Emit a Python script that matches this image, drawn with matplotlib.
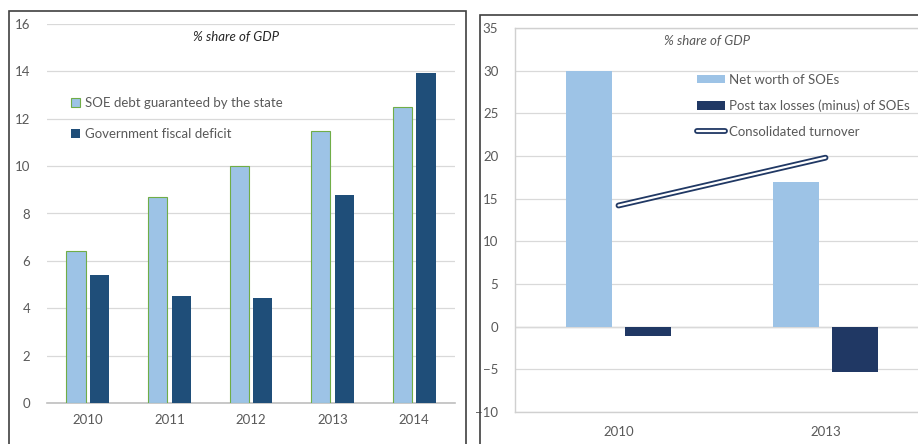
import matplotlib.pyplot as plt
import matplotlib.patheffects as pe
from matplotlib.patches import Rectangle
import numpy as np

# left panel data
years_left = ["2010", "2011", "2012", "2013", "2014"]
soe_debt = [6.4, 8.7, 10.0, 11.5, 12.5]
fiscal_deficit = [5.4, 4.5, 4.45, 8.8, 13.95]

# right panel data
years_right = ["2010", "2013"]
net_worth = [30.0, 17.0]
post_tax_losses = [-1.1, -5.3]
turnover = [14.2, 19.8]

LIGHT = "#9DC3E6"
DARK_L = "#1F4E79"
DARK_R = "#203864"
GRID = "#D9D9D9"
TXT = "#595959"

plt.rcParams["font.family"] = ["Lato", "DejaVu Sans"]

W, H = 918, 444
fig = plt.figure(figsize=(W / 100, H / 100), dpi=100)


def fx(px):
    return px / W


def fy(py):
    return 1 - py / H


# panel frames
fig.patches.append(Rectangle((fx(9), fy(460)), fx(457), fy(11) - fy(460),
                             transform=fig.transFigure, fill=False,
                             edgecolor="#404040", lw=1.2))
fig.patches.append(Rectangle((fx(480), fy(460)), fx(460), fy(15) - fy(460),
                             transform=fig.transFigure, fill=False,
                             edgecolor="#404040", lw=1.2))

# ---- left chart ----
ax1 = fig.add_axes([fx(47), fy(403), fx(455) - fx(47), fy(24) - fy(403)])
x = np.arange(len(years_left))
bw = 0.235
ax1.bar(x - 0.145, soe_debt, bw, color=LIGHT, edgecolor="#70AD47", lw=0.8,
        label="SOE debt guaranteed by the state", zorder=3)
ax1.bar(x + 0.145, fiscal_deficit, bw, color=DARK_L,
        label="Government fiscal deficit", zorder=3)
ax1.set_xlim(-0.5, len(years_left) - 0.5)
ax1.set_ylim(0, 16)
ax1.set_yticks(range(0, 17, 2))
ax1.set_xticks(x)
ax1.set_xticklabels(years_left)
ax1.grid(axis="y", color=GRID, lw=0.9, zorder=0)
for s in ["left", "right", "top"]:
    ax1.spines[s].set_visible(False)
ax1.spines["bottom"].set_color("#BFBFBF")
ax1.spines["bottom"].set_linewidth(1.2)
ax1.tick_params(length=0, colors=TXT, labelsize=9.5)
ax1.tick_params(axis="y", pad=12)
ax1.tick_params(axis="x", pad=8)
ax1.text(0.463, 0.965, "% share of GDP", transform=ax1.transAxes, ha="center",
         va="center", style="italic", fontsize=9.5, color="#262626")
ax1.legend(loc="upper left", bbox_to_anchor=(0.045, 0.822), frameon=False,
           handlelength=0.7, handleheight=0.7, handletextpad=0.4,
           labelspacing=1.45, fontsize=9.5, labelcolor=TXT, borderaxespad=0)

# ---- right chart ----
ax2 = fig.add_axes([fx(515), fy(412), fx(929) - fx(515), fy(28) - fy(412)])
xr = np.arange(len(years_right))
bw2 = 0.22
b1 = ax2.bar(xr - 0.143, net_worth, bw2, color=LIGHT,
             label="Net worth of SOEs", zorder=3)
b2 = ax2.bar(xr + 0.143, post_tax_losses, bw2, color=DARK_R,
             label="Post tax losses (minus) of SOEs", zorder=3)
ln, = ax2.plot(xr, turnover, color="white", lw=1.6, solid_capstyle="round",
               label="Consolidated turnover", zorder=4,
               path_effects=[pe.Stroke(linewidth=4.2, foreground=DARK_R,
                                       capstyle="round"), pe.Normal()])
ax2.set_xlim(-0.5, len(years_right) - 0.5)
ax2.set_ylim(-10, 35)
ax2.set_yticks(range(-10, 36, 5))
ax2.set_xticks(xr)
ax2.set_xticklabels(years_right)
ax2.grid(axis="y", color=GRID, lw=0.9, zorder=0)
ax2.axhline(0, color="#D0D0D0", lw=1.0, zorder=1)
for s in ["left", "top", "bottom"]:
    ax2.spines[s].set_color("#D0D0D0")
    ax2.spines[s].set_linewidth(1.0)
ax2.spines["right"].set_visible(False)
ax2.tick_params(length=0, colors=TXT, labelsize=9.5)
ax2.tick_params(axis="y", pad=12)
ax2.tick_params(axis="x", pad=10)
ax2.text(0.464, 0.965, "% share of GDP", transform=ax2.transAxes, ha="center",
         va="center", style="italic", fontsize=9.5, color=TXT)
ax2.legend(handles=[b1, b2, ln], loc="upper left",
           bbox_to_anchor=(0.427, 0.895), frameon=False,
           handlelength=2.1, handleheight=0.6, handletextpad=0.3,
           labelspacing=1.05, fontsize=9.5, labelcolor=TXT, borderaxespad=0)

fig.savefig("out.png", dpi=100)
